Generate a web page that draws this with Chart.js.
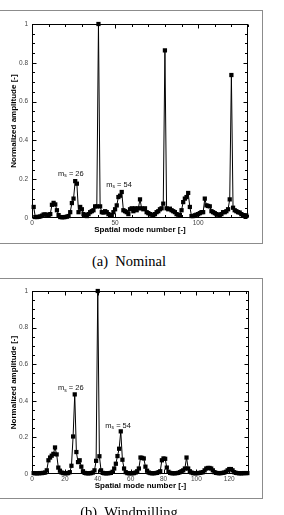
<!DOCTYPE html>
<html><head><meta charset="utf-8">
<script src="https://cdn.jsdelivr.net/npm/chart.js@4"></script>
<style>
html,body{margin:0;padding:0;background:#fff;width:284px;height:515px;overflow:hidden;position:relative}
.box{position:absolute;border:1px solid #8c8c8c;}
.wrap{position:absolute;left:0;width:284px;}
.cap{position:absolute;left:0;width:258px;text-align:center;font-family:"Liberation Serif","DejaVu Serif","Noto Serif",serif;font-size:14.5px;line-height:17px;color:#000;white-space:pre}
</style></head>
<body>
<div class="box" style="left:-3px;top:10px;width:264px;height:232px"></div>
<div class="wrap" style="top:0;height:250px"><canvas id="cA" width="284" height="250"></canvas></div>
<div class="cap" style="top:253px">(a)  Nominal</div>
<div class="box" style="left:-3px;top:278px;width:264px;height:219px"></div>
<div class="wrap" style="top:265px;height:240px"><canvas id="cB" width="284" height="240"></canvas></div>
<div class="cap" style="top:504px">(b)  Windmilling</div>
<script>
// ---------- data ----------
const modesA = Array.from({length:129},(_,i)=>i+1);
const ampNominal = [
 0.057,0.005,0.005,0.006,0.008,0.012,0.018,0.018,0.017,0.012,
 0.020,0.068,0.078,0.070,0.040,0.015,0.005,0.004,0.004,0.005,
 0.007,0.010,0.030,0.077,0.100,0.190,0.177,0.030,0.057,0.045,
 0.020,0.015,0.010,0.020,0.030,0.035,0.040,0.060,0.060,1.000,
 0.060,0.030,0.028,0.035,0.030,0.020,0.015,0.014,0.030,0.045,
 0.065,0.108,0.115,0.134,0.040,0.035,0.030,0.020,0.045,0.050,
 0.035,0.050,0.040,0.050,0.096,0.050,0.045,0.050,0.030,0.025,
 0.020,0.017,0.015,0.020,0.030,0.035,0.045,0.050,0.074,0.864,
 0.050,0.045,0.048,0.040,0.035,0.030,0.020,0.017,0.015,0.040,
 0.082,0.100,0.108,0.129,0.057,0.010,0.010,0.014,0.017,0.020,
 0.025,0.030,0.030,0.100,0.065,0.062,0.060,0.035,0.030,0.025,
 0.020,0.017,0.015,0.020,0.030,0.030,0.035,0.045,0.096,0.737,
 0.053,0.040,0.035,0.030,0.028,0.020,0.015,0.014,0.012
];
const modesB = Array.from({length:131},(_,i)=>i+1);
const ampWindmilling = [
 0.005,0.004,0.004,0.004,0.005,0.005,0.006,0.008,0.020,0.075,
 0.090,0.100,0.110,0.145,0.107,0.035,0.018,0.008,0.005,0.004,
 0.004,0.005,0.010,0.045,0.205,0.435,0.120,0.065,0.075,0.040,
 0.015,0.006,0.004,0.004,0.004,0.005,0.008,0.020,0.072,1.000,
 0.097,0.020,0.006,0.004,0.004,0.004,0.005,0.006,0.012,0.030,
 0.056,0.098,0.138,0.233,0.078,0.030,0.010,0.005,0.004,0.004,
 0.004,0.005,0.008,0.015,0.030,0.090,0.088,0.085,0.040,0.018,
 0.008,0.005,0.004,0.004,0.005,0.006,0.010,0.015,0.075,0.085,
 0.083,0.035,0.012,0.006,0.004,0.004,0.004,0.005,0.006,0.010,
 0.015,0.020,0.030,0.090,0.030,0.015,0.008,0.005,0.004,0.004,
 0.005,0.006,0.008,0.010,0.020,0.030,0.033,0.033,0.030,0.020,
 0.010,0.006,0.005,0.004,0.005,0.006,0.008,0.012,0.020,0.027,
 0.027,0.020,0.010,0.006,0.005,0.004,0.004,0.004,0.005,0.005,
 0.005
];
const yTickValues = [0,0.2,0.4,0.6,0.8,1];
const xTicksA = [0,50,100];
const xTicksB = [0,20,40,60,80,100,120];
const annotA = [{base:'m',sub:'s',rest:' = 26',x:23.4,y:0.228},{base:'m',sub:'s',rest:' = 54',x:52.4,y:0.172}];
const annotB = [{base:'m',sub:'s',rest:' = 26',x:23.6,y:0.469},{base:'m',sub:'s',rest:' = 54',x:52.4,y:0.265}];

// ---------- plugins ----------
const frameTicks = {
  id:'frameTicks',
  afterDatasetsDraw(chart, args, o){
    const {ctx, chartArea:a, scales:{x,y}} = chart;
    ctx.save();
    ctx.strokeStyle='#000'; ctx.lineWidth=1;
    const L=Math.round(a.left)+0.5, R=Math.round(a.right)-0.5, T=Math.round(a.top)+0.5, B=Math.round(a.bottom)-0.5;
    ctx.strokeRect(L,T,R-L,B-T);
    ctx.beginPath();
    for(let v=x.min; v<=x.max+1e-9; v+=o.xMinor){
      const px=Math.round(x.getPixelForValue(v))+0.5;
      const len = (Math.abs(v/o.xMajor-Math.round(v/o.xMajor))<1e-6)?4:2.5;
      ctx.moveTo(px,B); ctx.lineTo(px,B-len);
      ctx.moveTo(px,T); ctx.lineTo(px,T+len);
    }
    for(let v=y.min; v<=y.max+1e-9; v+=o.yMinor){
      const py=Math.round(y.getPixelForValue(v))+0.5;
      const len = (Math.abs(v/o.yMajor-Math.round(v/o.yMajor))<1e-6)?4:2.5;
      ctx.moveTo(L,py); ctx.lineTo(L+len,py);
      ctx.moveTo(R,py); ctx.lineTo(R-len,py);
    }
    ctx.stroke();
    ctx.restore();
  },
  afterDraw(chart, args, o){
    const {ctx, scales:{x,y}} = chart;
    ctx.save();
    ctx.fillStyle='#111'; ctx.textBaseline='middle';
    (o.notes||[]).forEach(n=>{
      const f1='7.5px "Liberation Sans", Arial, sans-serif', f2='5px "Liberation Sans", Arial, sans-serif';
      ctx.font=f1; const w1=ctx.measureText(n.base).width, w3=ctx.measureText(n.rest).width;
      ctx.font=f2; const w2=ctx.measureText(n.sub).width;
      const cx=x.getPixelForValue(n.x), cy=y.getPixelForValue(n.y);
      let sx=cx-(w1+w2+w3)/2;
      ctx.font=f1; ctx.fillText(n.base,sx,cy); sx+=w1;
      ctx.font=f2; ctx.fillText(n.sub,sx,cy+2); sx+=w2;
      ctx.font=f1; ctx.fillText(n.rest,sx,cy);
    });
    ctx.restore();
  }
};

function makeChart(id, modes, amps, xTicks, xMax, xMinor, xMajor, pad, notes){
  const tickFont={family:'"Liberation Sans", Arial, sans-serif', size:6.5};
  const titleFont={family:'"Liberation Sans", Arial, sans-serif', size:8, weight:'bold'};
  return new Chart(document.getElementById(id),{
    type:'line',
    data:{datasets:[{
      data: modes.map((m,i)=>({x:m,y:amps[i]})),
      borderColor:'#000', borderWidth:1, backgroundColor:'#000',
      pointStyle:'rect', pointRadius:3, pointBorderWidth:0, pointBackgroundColor:'#000',
      tension:0, clip:false
    }]},
    options:{
      responsive:false, animation:false,
      layout:{padding:pad},
      plugins:{legend:{display:false}, tooltip:{enabled:false},
        frameTicks:{xMinor, xMajor, yMinor:0.05, yMajor:0.2, notes}},
      scales:{
        x:{type:'linear', min:0, max:xMax,
          grid:{display:false, drawTicks:false}, border:{display:false},
          afterBuildTicks:s=>{s.ticks=xTicks.map(v=>({value:v}));},
          afterFit:s=>{s.height=26;},
          ticks:{font:tickFont, color:'#444', padding:1, maxRotation:0, autoSkip:false},
          title:{display:true, text:'Spatial mode number [-]', font:titleFont, color:'#000', padding:{top:0,bottom:9}}
        },
        y:{type:'linear', min:0, max:1,
          grid:{display:false, drawTicks:false}, border:{display:false},
          afterBuildTicks:s=>{s.ticks=yTickValues.map(v=>({value:v}));},
          afterFit:s=>{s.width=32;},
          ticks:{font:tickFont, color:'#444', padding:4, callback:v=>String(v)},
          title:{display:true, text:'Normalized amplitude [-]', font:titleFont, color:'#000', padding:{top:9,bottom:0}}
        }
      }
    },
    plugins:[frameTicks]
  });
}
makeChart('cA', modesA, ampNominal, xTicksA, 130, 10, 50, {top:24,right:36,left:0,bottom:6}, annotA);
makeChart('cB', modesB, ampWindmilling, xTicksB, 132, 10, 20, {top:26,right:35,left:0,bottom:5}, annotB);
</script>
</body></html>
